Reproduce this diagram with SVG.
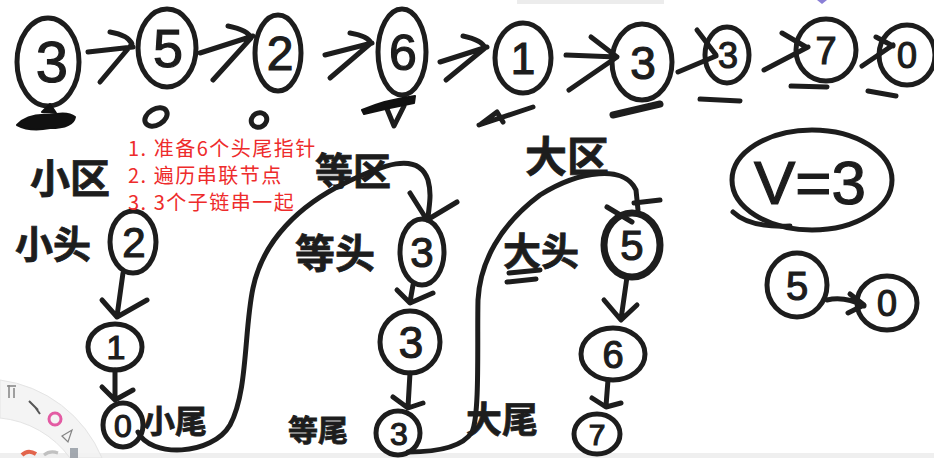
<svg xmlns="http://www.w3.org/2000/svg" width="934" height="458" viewBox="0 0 934 458">
<defs>
<style>
.ink{fill:none;stroke:#1d1d1d;stroke-width:5;stroke-linecap:round;stroke-linejoin:round}
.thick{stroke-width:7}
.num{font-family:"Liberation Sans",Arial,sans-serif;fill:#1d1d1d;stroke:#1d1d1d;stroke-width:1.2;text-anchor:middle}
.hw{font-family:"Noto Sans CJK SC",sans-serif;font-weight:700;fill:#1d1d1d;stroke:#1d1d1d;stroke-width:0.8}
.red{font-family:"Noto Sans CJK SC",sans-serif;font-size:20px;letter-spacing:1.5px;fill:#ee2b2b}
.blob{fill:#111;stroke:#111;stroke-width:2;stroke-linejoin:round}
</style>
</defs>
<rect width="934" height="458" fill="#ffffff"/>
<rect x="0" y="453" width="934" height="5" fill="#efefef"/>
<rect x="517" y="0" width="147" height="4" fill="#ececec"/>
<path d="M817 0 L822 4 L827 0 Z" fill="#8a7fd6"/>

<!-- top row nodes -->
<g id="t3"><ellipse class="ink" cx="48" cy="62" rx="31" ry="44"/><text class="num" x="52" y="82" font-size="58">3</text></g>
<g id="t5"><ellipse class="ink" cx="167" cy="48" rx="29" ry="39"/><text class="num" x="168" y="67" font-size="54">5</text></g>
<g id="t2"><ellipse class="ink" cx="278" cy="53" rx="23" ry="38"/><text class="num" x="280" y="70" font-size="48">2</text></g>
<g id="t6"><ellipse class="ink" cx="402" cy="52" rx="24" ry="43"/><text class="num" x="403" y="70" font-size="50">6</text></g>
<g id="t1"><ellipse class="ink" cx="523" cy="58" rx="28" ry="35"/><text class="num" x="523" y="74" font-size="44">1</text></g>
<g id="t3b"><ellipse class="ink" cx="642" cy="62" rx="30" ry="38"/><text class="num" x="643" y="79" font-size="46">3</text></g>
<g id="t3c"><ellipse class="ink" cx="727" cy="55" rx="22" ry="28"/><text class="num" x="728" y="68" font-size="36">3</text></g>
<g id="t7"><ellipse class="ink" cx="826" cy="50" rx="30" ry="31"/><text class="num" x="826" y="64" font-size="38">7</text></g>
<g id="t0"><ellipse class="ink" cx="907" cy="55" rx="28" ry="30"/><text class="num" x="907" y="68" font-size="36">0</text></g>

<!-- marks under top row -->
<g id="marks">
<path class="blob" d="M42 112 L50 104 L56 113 Z"/>
<path class="blob" d="M17 125 Q28 113 50 115 Q68 111 75 117 Q73 128 50 128 Q30 132 17 125 Z"/>
<ellipse class="ink" cx="156" cy="117" rx="12" ry="8" transform="rotate(-30 156 117)"/>
<ellipse class="ink" cx="259" cy="120" rx="8" ry="7" transform="rotate(-30 259 120)"/>
<path class="ink" d="M385 104 L394 126 L404 106" />
<path class="blob" d="M362 110 Q385 100 415 96 L414 103 Q388 108 364 114 Z"/>
<path class="ink" d="M479 125 L533 107 M481 124 L497 112 L503 122"/>
<path class="ink thick" d="M613 115 L660 104"/>
<path class="ink" d="M700 99 L740 101"/>
<path class="ink" d="M791 86 L827 87"/>
<path class="ink" d="M868 91 L896 96"/>
</g>

<!-- lower nodes -->
<g id="s2"><ellipse class="ink" cx="133" cy="242" rx="23" ry="31"/><text class="num" x="134" y="257" font-size="42">2</text></g>
<g id="s1"><ellipse class="ink" cx="115" cy="347" rx="27" ry="23"/><text class="num" x="116" y="359" font-size="34">1</text></g>
<g id="s0"><ellipse class="ink" cx="123" cy="425" rx="20" ry="22"/><text class="num" x="123" y="437" font-size="32">0</text></g>

<g id="e3a"><ellipse class="ink" cx="422" cy="252" rx="22" ry="33"/><text class="num" x="422" y="267" font-size="42">3</text></g>
<g id="e3b"><ellipse class="ink" cx="410" cy="342" rx="30" ry="31"/><text class="num" x="411" y="358" font-size="44">3</text></g>
<g id="e3c"><ellipse class="ink" cx="398" cy="433" rx="22" ry="22"/><text class="num" x="399" y="445" font-size="32">3</text></g>

<g id="b5"><ellipse class="ink thick" cx="632" cy="245" rx="28" ry="32"/><text class="num" x="632" y="260" font-size="42">5</text></g>
<g id="b6"><ellipse class="ink" cx="613" cy="354" rx="32" ry="26"/><text class="num" x="613" y="368" font-size="38">6</text></g>
<g id="b7"><ellipse class="ink" cx="597" cy="434" rx="23" ry="20"/><text class="num" x="597" y="445" font-size="30">7</text></g>

<g id="v"><ellipse class="ink" cx="812" cy="180" rx="80" ry="50"/><path class="ink" d="M733 212 Q750 228 790 226"/><text class="num" x="810" y="204" font-size="62">V=3</text></g>
<g id="r5"><ellipse class="ink" cx="797" cy="285" rx="30" ry="32"/><text class="num" x="797" y="300" font-size="40">5</text></g>
<g id="r0"><ellipse class="ink" cx="887" cy="303" rx="30" ry="27"/><text class="num" x="887" y="316" font-size="36">0</text></g>

<!-- handwritten labels -->
<g id="labels">
<text class="hw" x="30" y="193" font-size="40">小区</text>
<text class="hw" x="15" y="258" font-size="38">小头</text>
<text class="hw" x="143" y="433" font-size="32">小尾</text>
<text class="hw" x="315" y="185" font-size="38">等区</text>
<text class="hw" x="295" y="268" font-size="40">等头</text>
<text class="hw" x="288" y="441" font-size="30">等尾</text>
<text class="hw" x="525" y="172" font-size="42">大区</text>
<text class="hw" x="503" y="265" font-size="38">大头</text>
<path class="ink" d="M509 273 L540 270 M507 282 L536 279"/>
<text class="hw" x="466" y="433" font-size="36">大尾</text>
</g>

<!-- red notes -->
<g id="notes">
<text class="red" x="128" y="156">1. 准备6个头尾指针</text>
<text class="red" x="128" y="183">2. 遍历串联节点</text>
<text class="red" x="128" y="210">3. 3个子链串一起</text>
</g>

<!-- connectors -->
<g id="connectors">
<path class="ink" d="M88 52 L133 47 M110 32 Q128 35 132 44 L100 82"/>
<path class="ink" d="M200 53 L253 36 M228 26 Q248 30 251 38 L213 80"/>
<path class="ink" d="M325 55 L372 43 M350 33 Q368 36 371 43 L330 78"/>
<path class="ink" d="M440 62 L487 47 M463 36 Q482 40 485 48 L446 80"/>
<path class="ink" d="M566 55 L617 57 M591 37 L617 57 L569 90"/>
<path class="ink" d="M678 72 L716 56 M697 30 L716 55"/>
<path class="ink" d="M764 70 L808 47 M782 33 L806 47"/>
<path class="ink" d="M862 66 L893 45 M876 37 L893 46"/>
<path class="ink" d="M827 300 Q845 296 864 306 M850 294 L864 305 L848 313"/>

<path class="ink" d="M123 273 L117 316 M102 300 L117 317 L147 300"/>
<path class="ink" d="M115 370 L115 398 M102 387 L115 400 L133 390"/>
<path class="ink" d="M413 285 L410 302 M397 290 L410 303 L433 293"/>
<path class="ink" d="M410 373 L408 407 M393 397 L408 408 L423 403"/>
<path class="ink" d="M627 277 L621 319 M604 300 L621 320 L637 305"/>
<path class="ink" d="M608 380 L606 406 M592 398 L606 407 L621 403"/>

<path class="ink" d="M138 432 C150 458 212 456 230 425 C248 392 244 330 253 288 C263 240 300 205 345 183 C380 166 418 150 428 180 C432 195 429 205 428 218"/>
<path class="ink" d="M410 193 L427 220 L457 202"/>
<path class="ink" d="M408 452 C435 452 462 448 472 432 C480 415 477 340 478 300 C480 262 500 225 540 195 C580 170 625 165 636 190 L638 210"/>
<path class="ink" d="M607 207 L632 222 M634 203 L660 200"/>
</g>

<!-- toolbar remnant -->
<g id="toolbar" opacity="0.9">
<path d="M0 380 A128 128 0 0 1 102 458 L70 458 A98 98 0 0 0 0 418 Z" fill="#f3f3f3" stroke="#e2e2e2"/>
<circle cx="55" cy="419" r="6" fill="none" stroke="#e04a9a" stroke-width="3"/>
<path d="M9 398 L9 385 M14 398 L14 388 M7 386 L16 386" stroke="#777" stroke-width="1.5"/>
<path d="M29 401 L38 410 M35 407 L40 414" stroke="#444" stroke-width="2"/>
<path d="M62 436 L72 430 L68 442 Z" fill="none" stroke="#777" stroke-width="1.2"/>
<path d="M22 455 Q28 449 36 454" fill="none" stroke="#e0553a" stroke-width="4"/>
<path d="M44 455 Q50 450 58 453" fill="none" stroke="#bbb" stroke-width="3"/>
<rect x="70" y="448" width="8" height="10" fill="#9aa0a8"/>
</g>
</svg>
